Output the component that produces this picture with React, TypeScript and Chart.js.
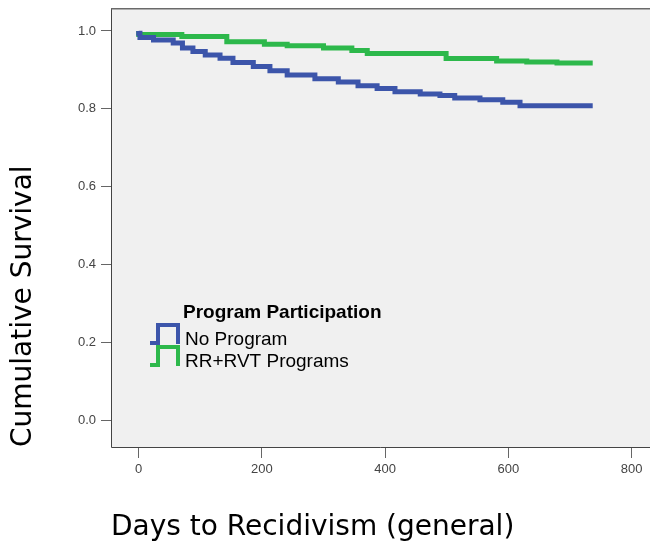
import React, { useEffect, useRef } from "react";
import { Chart, registerables } from "chart.js";

Chart.register(...registerables);

// Kaplan-Meier steps: day the step happens, survival from that day on
const noProgramDays = [0, 2, 24, 56, 71, 88, 108, 132, 153, 186, 213, 241, 286, 324, 356, 387, 416, 457, 489, 513, 554, 591, 619, 643, 737];
const noProgramSurv = [1.0, 0.994, 0.983, 0.977, 0.969, 0.956, 0.947, 0.938, 0.93, 0.919, 0.909, 0.898, 0.887, 0.877, 0.869, 0.859, 0.852, 0.844, 0.838, 0.834, 0.828, 0.823, 0.817, 0.808, 0.808];

const rrRvtDays = [0, 70, 143, 204, 241, 300, 346, 371, 499, 581, 630, 679, 708, 737];
const rrRvtSurv = [1.0, 0.991, 0.986, 0.972, 0.966, 0.962, 0.956, 0.95, 0.942, 0.929, 0.923, 0.92, 0.918, 0.918];

const seriesLabels = ["No Program", "RR+RVT Programs"];
const seriesColors = ["#3c55aa", "#2db84b"];
const legendTitle = "Program Participation";

const xTitle = "Days to Recidivism (general)";
const yTitle = "Cumulative Survival";

const tickFont = { family: "'Liberation Sans', Arial, sans-serif", size: 13 };
const titleFont = { family: "'DejaVu Sans', Verdana, sans-serif", size: 28 };

// grey plot background plus the frame lines (left, bottom, top)
const plotFrame = {
  id: "plotFrame",
  beforeDraw(chart: any) {
    const { ctx, chartArea: a } = chart;
    ctx.save();
    ctx.fillStyle = "#f0f0f0";
    ctx.fillRect(a.left, a.top, a.right - a.left, a.bottom - a.top);
    ctx.restore();
  },
  afterDraw(chart: any) {
    const { ctx, chartArea: a } = chart;
    ctx.save();
    ctx.strokeStyle = "#444";
    ctx.lineWidth = 1;
    ctx.beginPath();
    ctx.moveTo(a.left + 0.5, a.top);
    ctx.lineTo(a.left + 0.5, a.bottom + 0.5);
    ctx.lineTo(a.right, a.bottom + 0.5);
    ctx.stroke();
    ctx.strokeStyle = "#6a6a6a";
    ctx.lineWidth = 1.5;
    ctx.beginPath();
    ctx.moveTo(a.left, a.top + 0.75);
    ctx.lineTo(a.right, a.top + 0.75);
    ctx.stroke();
    ctx.restore();
  },
};

// SPSS style legend inside the plot, step icons + labels
const stepLegend = {
  id: "stepLegend",
  afterDraw(chart: any) {
    const { ctx, chartArea } = chart;
    const x0 = chartArea.left + 72;
    const y0 = chartArea.top + 310;
    ctx.save();
    ctx.fillStyle = "#000";
    ctx.textAlign = "left";
    ctx.textBaseline = "alphabetic";
    ctx.font = "bold 19px 'Liberation Sans', Arial, sans-serif";
    ctx.fillText(legendTitle, x0, y0);
    ctx.font = "19px 'Liberation Sans', Arial, sans-serif";
    chart.data.datasets.forEach((ds: any, i: number) => {
      const base = y0 + 27 + i * 22;
      ctx.strokeStyle = ds.borderColor;
      ctx.lineWidth = 4;
      ctx.lineJoin = "miter";
      ctx.lineCap = "butt";
      ctx.beginPath();
      ctx.moveTo(x0 - 33, base - 2);
      ctx.lineTo(x0 - 25, base - 2);
      ctx.lineTo(x0 - 25, base - 20);
      ctx.lineTo(x0 - 5, base - 20);
      ctx.lineTo(x0 - 5, base - 1);
      ctx.stroke();
      ctx.fillText(ds.label, x0 + 2, base);
    });
    ctx.restore();
  },
};

export default function App() {
  const canvasRef = useRef<HTMLCanvasElement>(null);

  useEffect(() => {
    if (!canvasRef.current) return;

    const toPoints = (days: number[], surv: number[]) => days.map((d, i) => ({ x: d, y: surv[i] }));

    const chart = new Chart(canvasRef.current, {
      type: "line",
      data: {
        datasets: [
          {
            label: seriesLabels[0],
            data: toPoints(noProgramDays, noProgramSurv),
            borderColor: seriesColors[0],
            borderWidth: 5,
            stepped: "after",
            pointRadius: 0,
            fill: false,
          },
          {
            label: seriesLabels[1],
            data: toPoints(rrRvtDays, rrRvtSurv),
            borderColor: seriesColors[1],
            borderWidth: 5,
            stepped: "after",
            pointRadius: 0,
            fill: false,
          },
        ],
      },
      options: {
        animation: false,
        responsive: false,
        maintainAspectRatio: false,
        layout: { padding: { top: 8, right: 0, bottom: 0, left: 0 } },
        plugins: { legend: { display: false }, tooltip: { enabled: false } },
        scales: {
          x: {
            type: "linear",
            min: -45,
            max: 830,
            afterFit: (s: any) => {
              s.height = 99;
              s.paddingLeft = 0;
              s.paddingRight = 0;
            },
            border: { display: false },
            grid: { drawOnChartArea: false, drawTicks: true, tickLength: 11, color: "#666" },
            ticks: {
              stepSize: 200,
              includeBounds: false,
              padding: 4,
              maxRotation: 0,
              color: "#444",
              font: tickFont,
            },
            title: {
              display: true,
              text: xTitle,
              align: "start",
              color: "#000",
              font: titleFont,
              padding: { top: 0, bottom: 1 },
            },
          },
          y: {
            type: "linear",
            min: -0.069,
            max: 1.059,
            afterFit: (s: any) => {
              s.width = 111;
              s.paddingTop = 0;
              s.paddingBottom = 0;
            },
            border: { display: false },
            grid: { drawOnChartArea: false, drawTicks: true, tickLength: 10, color: "#666" },
            ticks: {
              stepSize: 0.2,
              includeBounds: false,
              padding: 5,
              color: "#444",
              font: tickFont,
              callback: (v: any) => Number(v).toFixed(1),
            },
            title: {
              display: true,
              text: yTitle,
              align: "start",
              color: "#000",
              font: titleFont,
              padding: { top: 7, bottom: 0 },
            },
          },
        },
      },
      plugins: [plotFrame, stepLegend],
    });

    return () => {
      chart.destroy();
    };
  }, []);

  return (
    <div style={{ position: "fixed", left: 0, top: 0, width: 650, height: 546, background: "#fff" }}>
      <canvas ref={canvasRef} width={650} height={546} style={{ display: "block" }} />
    </div>
  );
}
